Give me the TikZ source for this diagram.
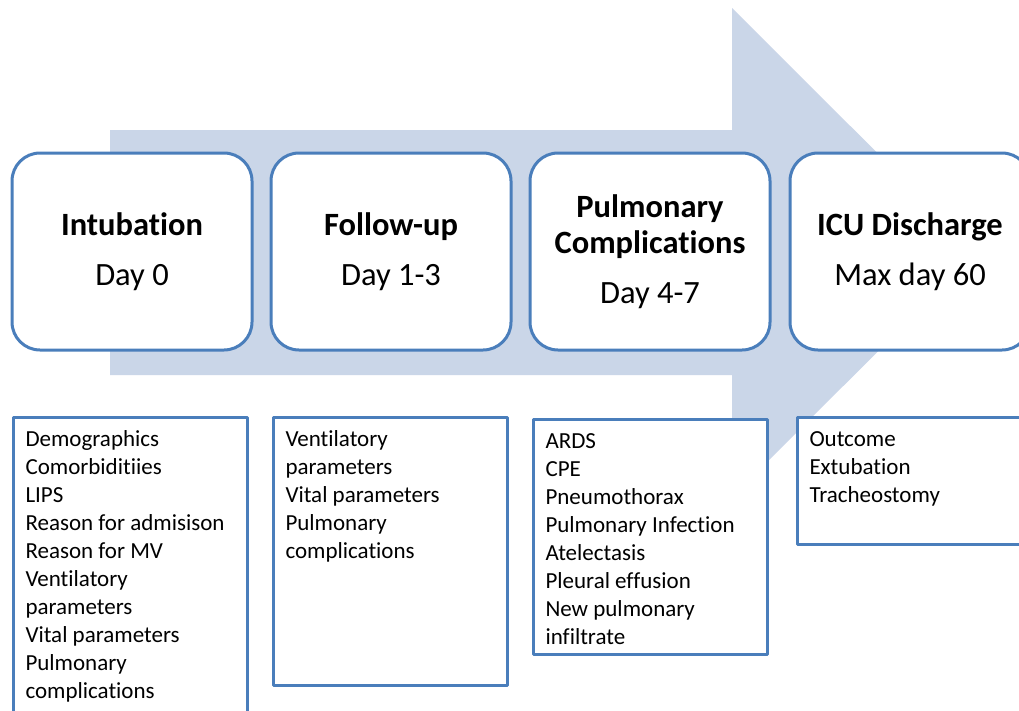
\documentclass[tikz,border=0pt]{standalone}
\usepackage{fontspec}
\setmainfont{Carlito}[Ligatures=NoCommon]
\definecolor{arrowblue}{HTML}{CAD6E8}
\definecolor{frameblue}{HTML}{4A7EBB}
% list text in the lower boxes, top aligned
\newcommand{\itemlist}[2]{\parbox[t][#1][t]{210pt}{\fontsize{23}{28}\selectfont\strut#2}}

\begin{document}
\begin{tikzpicture}[x=1pt, y=-1pt, line join=round]
	\tikzset{stage/.style={draw=frameblue, line width=3pt, fill=white, rounded corners=28pt,
			minimum width=240pt, minimum height=197pt, align=center,
			font=\fontsize{32.5}{36}\selectfont},
		listbox/.style={draw=frameblue, line width=3pt, fill=white, anchor=north west,
			inner xsep=12pt, inner ysep=9.5pt}}
	\useasboundingbox (0,0) rectangle (1019,710);
	\clip (0,0) rectangle (1019,710);
	\fill[white] (0,0) rectangle (1019,710);
	% big arrow behind the stages
	\fill[arrowblue] (110,130) -- (732,130) -- (732,8) -- (977,252.5) -- (732,497) -- (732,375) -- (110,375) -- cycle;
	% stages
	\node[stage] (intub) at (132,251.5) {\textbf{Intubation}\\[14pt]Day 0};
	\node[stage] (follow) at (391,251.5) {\textbf{Follow-up}\\[14pt]Day 1-3};
	\node[stage] (pulm) at (650,251.5) {\textbf{Pulmonary}\\\textbf{Complications}\\[14pt]Day 4-7};
	\node[stage] (disch) at (910,251.5) {\textbf{ICU Discharge}\\[14pt]Max day 60};
	% data collected per stage
	\node[listbox] (intubdata) at (12,416) {\itemlist{291pt}{Demographics\\Comorbiditiies\\LIPS\\Reason for admisison\\Reason for MV\\Ventilatory\\parameters\\Vital parameters\\Pulmonary\\complications}};
	\node[listbox] (followdata) at (272,416) {\itemlist{249pt}{Ventilatory\\parameters\\Vital parameters\\Pulmonary\\complications}};
	\node[listbox] (pulmdata) at (532,418) {\itemlist{216pt}{ARDS\\CPE\\Pneumothorax\\Pulmonary Infection\\Atelectasis\\Pleural effusion\\New pulmonary\\infiltrate}};
	\node[listbox] (dischdata) at (796,416) {\itemlist{108pt}{Outcome\\Extubation\\Tracheostomy}};
\end{tikzpicture}
\end{document}
